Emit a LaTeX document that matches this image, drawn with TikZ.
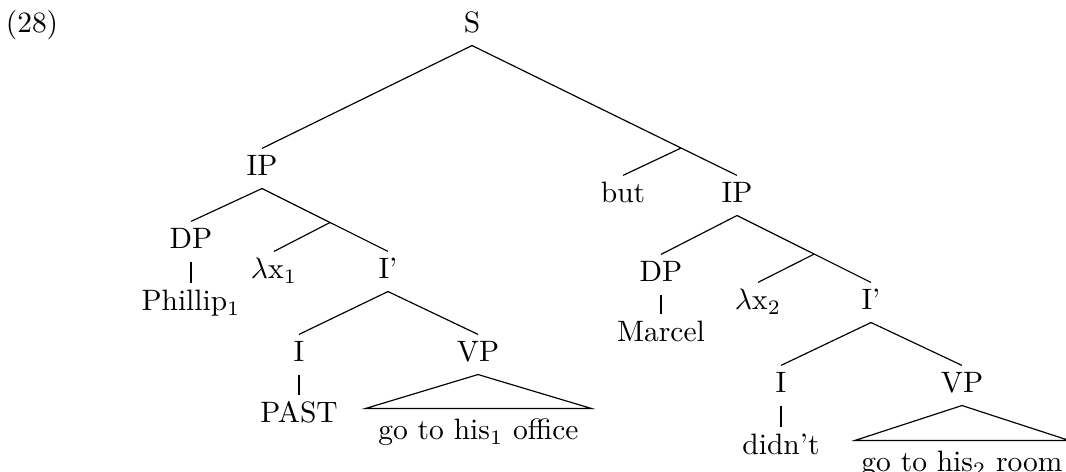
\documentclass[tikz,border=0pt]{standalone}
\usetikzlibrary{calc}
\tikzset{
  lbl/.style={anchor=base, inner xsep=1pt, inner ysep=2.15pt, text height=7pt, text depth=1.9pt},
  roof/.style={anchor=base, inner ysep=3.5pt, text height=7pt, text depth=1.9pt},
  edge/.style={draw=black, line width=0.4pt}
}
\begin{document}
\begin{tikzpicture}[x=0.339pt,y=-0.339pt]
\useasboundingbox (0,0) rectangle (1066,472);
% example number
\node[lbl] (ex) at (32,33) {(28)};
% root
\node[lbl] (S) at (472,33) {S};
% left conjunct
\node[lbl] (IPa) at (262,176) {IP};
\node[lbl] (DPa) at (191,249) {DP};
\node[lbl] (Phil) at (191,311) {Phillip$_1$};
\node[lbl] (lama) at (274,279) {$\lambda$x$_1$};
\node[lbl] (Ibara) at (388,279) {I’};
\node[lbl] (Ia) at (299,362) {I};
\node[lbl] (VPa) at (478,362) {VP};
\node[lbl] (PAST) at (299,423) {PAST};
\node[roof, inner xsep=4.1pt] (office) at (478.5,440) {go to his$_1$ office};
% right conjunct
\node[lbl] (but) at (623,203) {but};
\node[lbl] (IPb) at (737,203) {IP};
\node[lbl] (DPb) at (661,282) {DP};
\node[lbl] (Marcel) at (661,342) {Marcel};
\node[lbl] (lamb) at (758,310) {$\lambda$x$_2$};
\node[lbl] (Ibarb) at (871,310) {I’};
\node[lbl] (Ib) at (781,393) {I};
\node[lbl] (VPb) at (962,393) {VP};
\node[lbl] (didnt) at (781,455) {didn’t};
\node[roof, inner xsep=2pt] (room) at (962,472) {go to his$_2$ room};
% branch points
\coordinate (k0) at ($(S.south)!0.789!(IPb.north)$);
\coordinate (k1) at ($(IPa.south)!0.54!(Ibara.north)$);
\coordinate (k2) at ($(IPb.south)!0.576!(Ibarb.north)$);
% edges
\draw[edge] (S.south) -- (IPa.north);
\draw[edge] (S.south) -- (IPb.north);
\draw[edge] (k0) -- (but.north);
\draw[edge] (IPa.south) -- (DPa.north);
\draw[edge] (IPa.south) -- (Ibara.north);
\draw[edge] (k1) -- (lama.north);
\draw[edge] (DPa.south) -- (Phil.north);
\draw[edge] (Ibara.south) -- (Ia.north);
\draw[edge] (Ibara.south) -- (VPa.north);
\draw[edge] (Ia.south) -- (PAST.north);
\draw[edge] (VPa.south) -- (office.north west) -- (office.north east) -- cycle;
\draw[edge] (IPb.south) -- (DPb.north);
\draw[edge] (IPb.south) -- (Ibarb.north);
\draw[edge] (k2) -- (lamb.north);
\draw[edge] (DPb.south) -- (Marcel.north);
\draw[edge] (Ibarb.south) -- (Ib.north);
\draw[edge] (Ibarb.south) -- (VPb.north);
\draw[edge] (Ib.south) -- (didnt.north);
\draw[edge] (VPb.south) -- (room.north west) -- (room.north east) -- cycle;
\end{tikzpicture}
\end{document}
